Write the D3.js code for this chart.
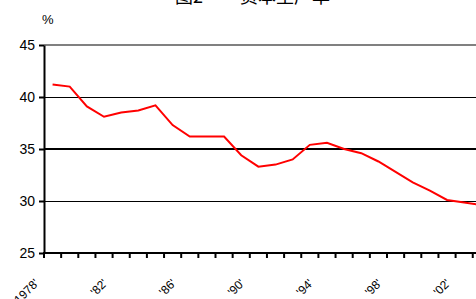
<!DOCTYPE html>
<html>
<head>
<meta charset="utf-8">
<script src="https://cdn.jsdelivr.net/npm/d3@7"></script>
<style>
  body { margin: 0; background: #fff; }
  svg { font-family: "Liberation Sans", Arial, sans-serif; display: block; }
</style>
</head>
<body>
<div id="content"></div>
<script>
const width = 476;
const height = 299;

// categories 1978..2003
const years = d3.range(1978, 2004);
const values = [41.2, 41.0, 39.1, 38.1, 38.5, 38.7, 39.2, 37.3, 36.2, 36.2,
                36.2, 34.4, 33.3, 33.5, 34.0, 35.4, 35.6, 35.0, 34.6, 33.8,
                32.8, 31.8, 31.0, 30.1, 29.85, 29.6];
const xLabels = {1978: "'1978'", 1982: "'82'", 1986: "'86'", 1990: "'90'",
                 1994: "'94'", 1998: "'98'", 2002: "'02'"};
const yTicks = [25, 30, 35, 40, 45];

const margin = {top: 45, left: 44, bottom: 46};
const step = 17.15;

var svg = d3.select("#content").append("svg")
    .attr("width", width)
    .attr("height", height);

var x = d3.scaleBand()
    .domain(years)
    .range([margin.left, margin.left + step * years.length]);

var y = d3.scaleLinear()
    .domain([25, 45])
    .range([height - margin.bottom, margin.top]);

// title (cut off at top in the reference)
svg.append("text").text("图2")
    .attr("x", 175).attr("y", 3)
    .attr("font-family", "Noto Sans CJK SC")
    .attr("font-size", 18);
svg.append("text").text("资本生产率")
    .attr("x", 240).attr("y", 3)
    .attr("font-family", "Noto Sans CJK SC")
    .attr("font-size", 18);

svg.append("text").text("%")
    .attr("x", 42).attr("y", 24)
    .attr("font-size", 13);

// gridlines
yTicks.filter(d => d > 25).forEach(d => {
    svg.append("line")
        .attr("x1", margin.left).attr("x2", width)
        .attr("y1", y(d)).attr("y2", y(d))
        .attr("stroke", d == 45 ? "#808080" : "#000")
        .attr("stroke-width", d == 35 || d == 45 ? 2 : 1)
        .attr("shape-rendering", "crispEdges");
});

// y axis
var yAxis = svg.append("g")
    .attr("transform", `translate(${margin.left},0)`)
    .call(d3.axisLeft(y).tickValues(yTicks).tickSize(5).tickSizeOuter(0));
yAxis.select(".domain").attr("stroke-width", 2);
yAxis.selectAll(".tick line").attr("stroke-width", 2);
yAxis.selectAll(".tick text")
    .attr("font-size", 14)
    .attr("font-family", "Liberation Sans, Arial, sans-serif")
    .attr("fill", "#000")
    .attr("x", -9);

// x axis line
svg.append("line")
    .attr("x1", margin.left - 1).attr("x2", width)
    .attr("y1", y(25)).attr("y2", y(25))
    .attr("stroke", "#000").attr("stroke-width", 2);

// x ticks at category boundaries
var bounds = years.map(d => x(d)).concat([x(years[years.length - 1]) + x.bandwidth()]);
svg.selectAll(".xtick").data(bounds).join("line")
    .attr("class", "xtick")
    .attr("x1", d => d).attr("x2", d => d)
    .attr("y1", y(25)).attr("y2", y(25) + 5)
    .attr("stroke", "#000").attr("stroke-width", 2);

// x labels
svg.selectAll(".xlabel").data(years.filter(d => xLabels[d])).join("text")
    .attr("class", "xlabel")
    .text(d => xLabels[d])
    .attr("text-anchor", "end")
    .attr("font-size", 12)
    .attr("transform", d => `translate(${x(d) + x.bandwidth() / 2 - 13}, 284) rotate(-45)`);

// line
var line = d3.line()
    .x((d, i) => x(years[i]) + x.bandwidth() / 2)
    .y(d => y(d));

svg.append("path")
    .datum(values)
    .attr("d", line)
    .attr("fill", "none")
    .attr("stroke", "#ff0000")
    .attr("stroke-width", 2);
</script>
</body>
</html>
